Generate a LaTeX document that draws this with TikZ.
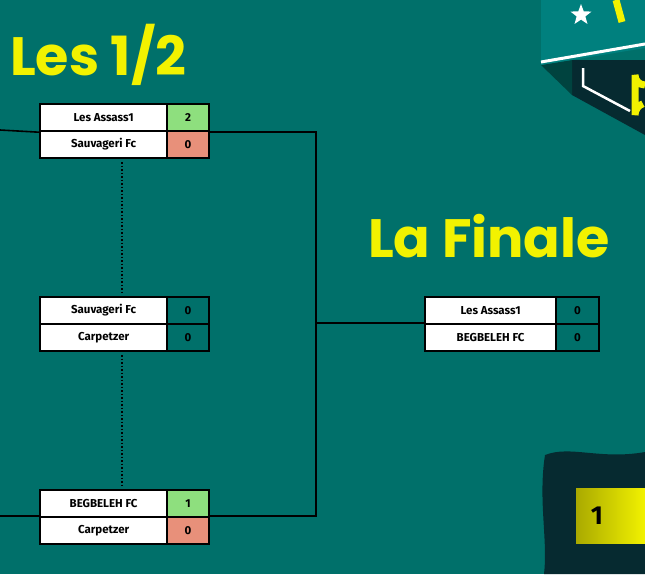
\documentclass[tikz,border=0pt]{standalone}
\usetikzlibrary{shapes.geometric}
\usepackage{fontspec}
\setmainfont{Fira Sans}
\newfontfamily\titlefont{Poppins}
\definecolor{bg}{HTML}{00706A}
\definecolor{win}{HTML}{8EDF7E}
\definecolor{lose}{HTML}{E8907A}
\definecolor{dark}{HTML}{062A30}
\definecolor{tealb}{HTML}{00807E}
\definecolor{yel}{HTML}{F2F200}
\begin{document}
\begin{tikzpicture}[x=1pt,y=-1pt,
  cell/.style={draw=black,line width=2.2pt,minimum height=27pt,inner sep=0pt,font=\bfseries\fontsize{11.5}{12}\selectfont,anchor=north west},
  namecell/.style={cell,fill=white,minimum width=127pt},
  scorecell/.style={cell,minimum width=42pt},
  wire/.style={line width=1.6pt,black},
  title/.style={text=yel,font=\titlefont\bfseries\fontsize{54}{58}\selectfont,inner sep=0pt}]
\fill[bg] (0,0) rectangle (645,574);
\useasboundingbox (0,0) rectangle (645,574);
% decor top right
\fill[dark] (572,60) -- (645,60) -- (645,135) -- (572,95) -- cycle;
\fill[black!40!bg] (541,65) -- (572,60) -- (572,95) -- cycle;
\fill[tealb] (541,0) -- (645,0) -- (645,48) -- (541,65) -- cycle;
\draw[white,line width=3pt] (541,62) -- (645,44);
\draw[white,line width=2.5pt] (583,68) -- (583,86) -- (630,111);
\node[star,star points=5,star point ratio=2.4,fill=white,minimum size=22pt,inner sep=0pt] (star) at (581,15) {};
\draw[yel,line width=7pt] (616,0) -- (622,22);
\draw[yel,line width=7pt] (645,85) arc[start angle=90,end angle=180,radius=10] -- (635,115) arc[start angle=180,end angle=250,radius=12];
% decor bottom right
\fill[dark] (545,455) .. controls (570,445) and (600,460) .. (645,452) -- (645,574) -- (544,574) .. controls (548,540) and (538,500) .. (545,455) -- cycle;
\shade[left color=yel!70!black,right color=yel] (576,488) rectangle (645,543);
\node[font=\bfseries\fontsize{26}{28}\selectfont] (one) at (597,516) {1};
% titles
\node[title,anchor=west] (t1) at (10,55) {Les 1/2};
\node[title,anchor=west] (t2) at (368,236) {La Finale};
% matches
\node[namecell] (a1) at (39,103) {Les Assass1};
\node[scorecell,fill=win] (a1s) at (166,103) {2};
\node[namecell] (a2) at (39,130) {Sauvageri Fc};
\node[scorecell,fill=lose] (a2s) at (166,130) {0};
\node[namecell] (b1) at (39,296) {Sauvageri Fc};
\node[scorecell,fill=bg] (b1s) at (166,296) {0};
\node[namecell] (b2) at (39,323) {Carpetzer};
\node[scorecell,fill=bg] (b2s) at (166,323) {0};
\node[namecell] (c1) at (39,489) {BEGBELEH FC};
\node[scorecell,fill=win] (c1s) at (166,489) {1};
\node[namecell] (c2) at (39,516) {Carpetzer};
\node[scorecell,fill=lose] (c2s) at (166,516) {0};
\node[namecell,minimum width=131pt] (f1) at (424,296) {Les Assass1};
\node[scorecell,fill=bg,minimum width=43pt] (f1s) at (555,296) {0};
\node[namecell,minimum width=131pt] (f2) at (424,323) {BEGBELEH FC};
\node[scorecell,fill=bg,minimum width=43pt] (f2s) at (555,323) {0};
% wires
\coordinate (l1) at (0,130);
\coordinate (l2) at (0,516);
\coordinate (j) at (316,323);
\draw[wire] (l1) -- (a1.south west);
\draw[wire] (l2) -- (c2.north west);
\draw[wire] (a1s.south east) -| (j) |- (c2s.north east);
\draw[wire] (j) -- (f2.north west);
\draw[dotted,line width=1.5pt] (122,162) -- (122,292);
\draw[dotted,line width=1.5pt] (122,355) -- (122,485);
\end{tikzpicture}
\end{document}
